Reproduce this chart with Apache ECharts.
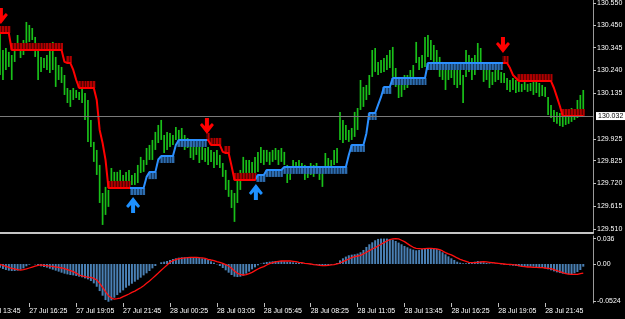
<!DOCTYPE html>
<html><head><meta charset="utf-8">
<script src="https://cdn.jsdelivr.net/npm/echarts@6/dist/echarts.min.js"></script>
<style>html,body{margin:0;padding:0;background:#000;}#c{width:625px;height:319px;}</style>
</head><body><div id="c"></div>
<script>
// ---------- data ----------
const timeLabels = ['27 Jul 13:45','27 Jul 16:25','27 Jul 19:05','27 Jul 21:45','28 Jul 00:25','28 Jul 03:05','28 Jul 05:45','28 Jul 08:25','28 Jul 11:05','28 Jul 13:45','28 Jul 16:25','28 Jul 19:05','28 Jul 21:45'];
const timeTickIdx = [-6,10,26,42,58,74,90,106,122,138,154,170,186];
const priceTicks = [129.510,129.615,129.720,129.825,129.925,130.135,130.240,130.345,130.450,130.550];
const priceTickLabels = ['129.510','129.615','129.720','129.825','129.925','130.135','130.240','130.345','130.450','130.550'];
const macdTicks = [0.036,0,-0.0524];
const macdTickLabels = ['0.036','0.00','-0.0524'];
const currentPrice = 130.032;

const high = [130.412,130.334,130.343,130.325,130.311,130.334,130.403,130.366,130.380,130.463,
130.449,130.435,130.394,130.334,130.302,130.297,130.311,130.357,130.371,130.302,
130.265,130.256,130.219,130.159,130.150,130.159,130.150,130.141,130.159,130.136,
130.104,130.012,129.911,129.874,129.805,129.676,129.704,129.690,129.791,129.773,
129.773,129.782,129.759,129.773,129.782,129.759,129.768,129.805,129.842,129.828,
129.883,129.897,129.920,129.957,129.989,130.012,129.943,129.957,129.952,129.943,
129.980,129.966,129.975,129.943,129.929,129.911,129.897,129.906,129.888,129.897,
129.883,129.888,129.874,129.865,129.874,129.851,129.814,129.782,129.736,129.690,
129.676,129.750,129.782,129.842,129.828,129.828,129.819,129.842,129.865,129.888,
129.874,129.874,129.865,129.874,129.883,129.874,129.883,129.865,129.805,129.791,
129.828,129.819,129.828,129.814,129.805,129.796,129.814,129.805,129.814,129.791,
129.782,129.860,129.837,129.828,129.874,129.883,130.049,130.012,129.989,129.966,
129.975,130.049,130.067,130.196,130.164,130.173,130.219,130.334,130.343,130.279,
130.288,130.297,130.311,130.334,130.348,130.251,130.210,130.182,130.219,130.219,
130.242,130.265,130.371,130.302,130.311,130.394,130.403,130.380,130.357,130.334,
130.302,130.279,130.256,130.274,130.265,130.256,130.242,130.279,130.219,130.334,
130.311,130.297,130.311,130.366,130.343,130.265,130.251,130.242,130.233,130.256,
130.251,130.233,130.228,130.205,130.196,130.205,130.196,130.187,130.178,130.187,
130.178,130.182,130.196,130.187,130.182,130.173,130.164,130.118,130.081,130.058,
130.049,130.044,130.040,130.049,130.058,130.067,130.058,130.104,130.127,130.150];

const low = [130.219,130.196,130.242,130.256,130.196,130.279,130.334,130.297,130.311,130.357,
130.371,130.380,130.302,130.196,130.233,130.251,130.242,130.228,130.242,130.164,
130.196,130.182,130.127,130.090,130.072,130.104,130.113,130.104,130.090,130.012,
129.911,129.888,129.819,129.759,129.630,129.529,129.575,129.612,129.704,129.704,
129.727,129.727,129.713,129.722,129.727,129.713,129.713,129.722,129.768,129.773,
129.805,129.828,129.828,129.874,129.906,129.920,129.860,129.874,129.888,129.897,
129.920,129.906,129.897,129.874,129.883,129.837,129.828,129.851,129.814,129.828,
129.819,129.805,129.819,129.791,129.805,129.791,129.750,129.690,129.658,129.607,
129.543,129.630,129.690,129.750,129.759,129.736,129.745,129.750,129.773,129.814,
129.805,129.819,129.805,129.819,129.828,129.805,129.819,129.805,129.722,129.736,
129.782,129.773,129.782,129.768,129.736,129.745,129.759,129.750,129.773,129.736,
129.704,129.791,129.782,129.768,129.805,129.814,129.920,129.906,129.920,129.911,
129.920,129.934,129.966,130.058,130.072,130.104,130.127,130.210,130.233,130.219,
130.228,130.233,130.242,130.251,130.210,130.164,130.113,130.118,130.150,130.159,
130.173,130.210,130.274,130.242,130.251,130.256,130.302,130.288,130.279,130.256,
130.210,130.196,130.150,130.196,130.205,130.173,130.159,130.173,130.090,130.210,
130.233,130.196,130.219,130.256,130.265,130.187,130.196,130.159,130.173,130.187,
130.196,130.182,130.182,130.150,130.141,130.150,130.136,130.141,130.141,130.150,
130.141,130.145,130.127,130.136,130.118,130.122,130.118,130.035,130.021,130.003,
129.994,129.984,129.980,129.989,129.994,130.003,130.012,130.021,130.026,130.049];

const stepLine = [130.412,130.412,130.412,130.412,130.334,130.334,130.334,130.334,130.334,130.334,
130.334,130.334,130.334,130.334,130.334,130.334,130.334,130.334,130.334,130.334,
130.334,130.334,130.279,130.274,130.274,130.242,130.196,130.159,130.159,130.159,
130.159,130.159,130.159,130.104,129.966,129.906,129.828,129.699,129.699,129.699,
129.699,129.699,129.699,129.699,129.699,129.699,129.699,129.699,129.699,129.699,
129.750,129.772,129.772,129.772,129.830,129.846,129.846,129.846,129.846,129.846,
129.897,129.920,129.920,129.920,129.920,129.920,129.920,129.920,129.920,129.920,
129.920,129.920,129.897,129.897,129.897,129.897,129.865,129.860,129.860,129.800,
129.736,129.736,129.736,129.736,129.736,129.736,129.736,129.736,129.759,129.759,
129.759,129.782,129.782,129.782,129.782,129.782,129.782,129.796,129.796,129.796,
129.796,129.796,129.796,129.796,129.796,129.796,129.796,129.796,129.796,129.796,
129.796,129.796,129.796,129.796,129.796,129.796,129.796,129.796,129.796,129.851,
129.897,129.897,129.897,129.897,129.897,129.950,130.044,130.044,130.044,130.081,
130.118,130.164,130.164,130.164,130.205,130.205,130.205,130.205,130.205,130.205,
130.205,130.205,130.205,130.205,130.205,130.205,130.274,130.274,130.274,130.274,
130.274,130.274,130.274,130.274,130.274,130.274,130.274,130.274,130.274,130.274,
130.274,130.274,130.274,130.274,130.274,130.274,130.274,130.274,130.274,130.274,
130.274,130.274,130.274,130.274,130.251,130.219,130.205,130.191,130.191,130.191,
130.191,130.191,130.191,130.191,130.191,130.191,130.191,130.191,130.191,130.159,
130.118,130.076,130.030,130.030,130.030,130.030,130.030,130.030,130.030,130.030];

const trendSegments = [
  {from:0, to:44, dir:'down'},
  {from:45, to:70, dir:'up'},
  {from:71, to:87, dir:'down'},
  {from:88, to:171, dir:'up'},
  {from:172, to:199, dir:'down'}
];
const arrowsDown = [[0.3,130.490],[70.6,129.984],[171.6,130.357]];
const arrowsUp = [[45.4,129.621],[87.3,129.681]];

const macdHist = [-0.0052,-0.0071,-0.0086,-0.0095,-0.0100,-0.0100,-0.0095,-0.0081,-0.0062,-0.0033,
-0.0010,0.0000,-0.0005,-0.0019,-0.0033,-0.0043,-0.0052,-0.0067,-0.0081,-0.0095,
-0.0109,-0.0124,-0.0138,-0.0148,-0.0157,-0.0162,-0.0171,-0.0181,-0.0190,-0.0205,
-0.0219,-0.0243,-0.0276,-0.0324,-0.0386,-0.0452,-0.0514,-0.0538,-0.0519,-0.0481,
-0.0443,-0.0409,-0.0376,-0.0338,-0.0309,-0.0281,-0.0252,-0.0224,-0.0195,-0.0162,
-0.0133,-0.0100,-0.0062,-0.0029,0.0000,0.0024,0.0033,0.0043,0.0057,0.0071,
0.0081,0.0090,0.0095,0.0095,0.0100,0.0100,0.0095,0.0095,0.0090,0.0081,
0.0071,0.0057,0.0038,0.0019,-0.0005,-0.0029,-0.0057,-0.0090,-0.0124,-0.0157,
-0.0181,-0.0186,-0.0181,-0.0167,-0.0138,-0.0109,-0.0076,-0.0048,-0.0019,0.0005,
0.0019,0.0029,0.0033,0.0038,0.0043,0.0043,0.0043,0.0038,0.0033,0.0029,
0.0024,0.0019,0.0014,0.0010,0.0005,0.0000,-0.0005,-0.0010,-0.0014,-0.0014,
-0.0019,-0.0019,-0.0014,-0.0010,-0.0005,0.0014,0.0052,0.0081,0.0105,0.0124,
0.0133,0.0138,0.0148,0.0167,0.0200,0.0243,0.0281,0.0309,0.0338,0.0357,
0.0362,0.0362,0.0362,0.0357,0.0347,0.0328,0.0305,0.0281,0.0257,0.0238,
0.0219,0.0205,0.0195,0.0200,0.0214,0.0224,0.0228,0.0228,0.0224,0.0214,
0.0195,0.0167,0.0138,0.0109,0.0081,0.0057,0.0033,0.0019,0.0010,0.0010,
0.0014,0.0024,0.0033,0.0043,0.0033,0.0024,0.0014,0.0010,0.0005,0.0005,
0.0000,-0.0005,-0.0010,-0.0014,-0.0019,-0.0024,-0.0029,-0.0033,-0.0038,-0.0038,
-0.0038,-0.0038,-0.0038,-0.0043,-0.0048,-0.0052,-0.0062,-0.0076,-0.0090,-0.0105,
-0.0119,-0.0129,-0.0138,-0.0143,-0.0148,-0.0143,-0.0133,-0.0114,-0.0086,-0.0038];

const macdSignal = [-0.0005,-0.0019,-0.0033,-0.0048,-0.0062,-0.0071,-0.0081,-0.0086,-0.0081,-0.0071,
-0.0057,-0.0043,-0.0029,-0.0019,-0.0014,-0.0019,-0.0024,-0.0029,-0.0033,-0.0043,
-0.0048,-0.0057,-0.0067,-0.0081,-0.0095,-0.0109,-0.0129,-0.0157,-0.0171,-0.0181,
-0.0186,-0.0190,-0.0205,-0.0228,-0.0276,-0.0333,-0.0395,-0.0452,-0.0486,-0.0500,
-0.0495,-0.0486,-0.0466,-0.0447,-0.0428,-0.0405,-0.0386,-0.0362,-0.0338,-0.0309,
-0.0276,-0.0243,-0.0205,-0.0167,-0.0129,-0.0090,-0.0052,-0.0014,0.0024,0.0048,
0.0062,0.0076,0.0081,0.0086,0.0090,0.0095,0.0095,0.0095,0.0090,0.0086,
0.0081,0.0067,0.0057,0.0048,0.0033,0.0024,0.0010,-0.0010,-0.0029,-0.0062,
-0.0100,-0.0133,-0.0148,-0.0157,-0.0152,-0.0138,-0.0119,-0.0095,-0.0071,-0.0052,
-0.0038,-0.0014,0.0005,0.0019,0.0029,0.0038,0.0043,0.0043,0.0043,0.0043,
0.0038,0.0033,0.0024,0.0019,0.0010,0.0005,0.0000,-0.0010,-0.0014,-0.0019,
-0.0024,-0.0024,-0.0019,-0.0014,-0.0010,0.0000,0.0014,0.0033,0.0052,0.0071,
0.0090,0.0105,0.0114,0.0124,0.0143,0.0167,0.0190,0.0214,0.0233,0.0257,
0.0281,0.0305,0.0328,0.0347,0.0357,0.0362,0.0357,0.0338,0.0319,0.0290,
0.0262,0.0238,0.0224,0.0219,0.0214,0.0219,0.0224,0.0224,0.0219,0.0214,
0.0205,0.0186,0.0162,0.0143,0.0129,0.0109,0.0086,0.0067,0.0052,0.0038,
0.0024,0.0019,0.0019,0.0024,0.0029,0.0033,0.0029,0.0024,0.0019,0.0014,
0.0010,0.0005,0.0000,-0.0005,-0.0005,-0.0010,-0.0014,-0.0024,-0.0033,-0.0038,
-0.0043,-0.0043,-0.0048,-0.0048,-0.0052,-0.0052,-0.0057,-0.0062,-0.0067,-0.0081,
-0.0095,-0.0109,-0.0124,-0.0138,-0.0143,-0.0148,-0.0148,-0.0148,-0.0138,-0.0129];

// ---------- chart ----------
const RED = '#ff0000', BLUE = '#2b8fff', GREEN = '#19c019';
const FONT = '"Liberation Sans", Arial, sans-serif';
const XMIN = -16.04, XMAX = 202.32;
function trendAt(i){ for (const s of trendSegments) if (i >= s.from && i <= s.to) return s.dir; return 'down'; }
function nearestLabel(v, ticks, labels){ let k=0, d=Infinity; ticks.forEach((t,j)=>{ if(Math.abs(t-v)<d){d=Math.abs(t-v);k=j;} }); return labels[k]; }

const chart = echarts.init(document.getElementById('c'));
const axisText = {color:'#ffffff', fontSize:7, fontFamily:FONT};

chart.setOption({
  backgroundColor:'#000000',
  animation:false,
  grid:[
    {left:-47, right:32, top:0, height:233, outerBoundsMode:'none', containLabel:false},
    {left:-47, right:32, top:236, height:67, outerBoundsMode:'none', containLabel:false}
  ],
  visualMap:[{
    type:'piecewise', show:false, dimension:0, seriesIndex:2,
    pieces: trendSegments.map(s => ({gte:s.from-0.5, lt:s.to+0.5, color: s.dir==='down'?RED:BLUE}))
  }],
  xAxis:[
    {gridIndex:0, type:'value', min:XMIN, max:XMAX,
     axisLine:{show:true, onZero:false, lineStyle:{color:'#c4c4c4', width:2}},
     axisTick:{show:false}, axisLabel:{show:false}, splitLine:{show:false}},
    {gridIndex:1, type:'value', min:XMIN, max:XMAX,
     axisLine:{show:false, onZero:false},
     axisTick:{show:true, customValues:timeTickIdx, length:4, lineStyle:{color:'#c0c0c0'}},
     axisLabel:Object.assign({customValues:timeTickIdx, align:'left', margin:5,
       formatter:(v)=>{const k=timeTickIdx.indexOf(Math.round(v)); return k>=0?timeLabels[k]:'';}}, axisText),
     splitLine:{show:false}}
  ],
  yAxis:[
    {gridIndex:0, type:'value', position:'right', min:129.4918, max:130.564,
     axisLine:{show:true, onZero:false, lineStyle:{color:'#9a9a9a'}},
     axisTick:{show:true, customValues:priceTicks, length:3, lineStyle:{color:'#c0c0c0'}},
     axisLabel:Object.assign({customValues:priceTicks, margin:4,
       formatter:(v)=>nearestLabel(v, priceTicks, priceTickLabels)}, axisText),
     splitLine:{show:false}},
    {gridIndex:1, type:'value', position:'right', min:-0.0556, max:0.0399,
     axisLine:{show:true, onZero:false, lineStyle:{color:'#9a9a9a'}},
     axisTick:{show:true, customValues:macdTicks, length:3, lineStyle:{color:'#c0c0c0'}},
     axisLabel:Object.assign({customValues:macdTicks, margin:4,
       formatter:(v)=>nearestLabel(v, macdTicks, macdTickLabels)}, axisText),
     splitLine:{show:false}}
  ],
  series:[
    { // price bars (high-low)
      type:'custom', xAxisIndex:0, yAxisIndex:0, z:1,
      data: high.map((h,i)=>[i, low[i], h]),
      encode:{x:0, y:[1,2]},
      renderItem:(params, api)=>{
        const i = api.value(0);
        const a = api.coord([i, api.value(1)]);
        const b = api.coord([i, api.value(2)]);
        return {type:'line', shape:{x1:a[0], y1:a[1], x2:b[0], y2:b[1]}, style:{stroke:GREEN, lineWidth:1.7}};
      },
      markLine:{
        silent:true, symbol:'none', animation:false,
        lineStyle:{color:'#7a7a7a', type:'solid', width:1},
        label:{show:true, position:'end', distance:3, formatter: currentPrice.toFixed(3),
               backgroundColor:'#ffffff', color:'#000000', fontSize:7, fontFamily:FONT, padding:[1,2,0,2]},
        data:[{yAxis:currentPrice}]
      }
    },
    { // hatched boxes along the step line
      type:'custom', xAxisIndex:0, yAxisIndex:0, z:2,
      data: stepLine.map((v,i)=>[i,v]),
      encode:{x:0, y:1},
      renderItem:(params, api)=>{
        const i = api.value(0), v = api.value(1);
        const flat = stepLine[i-1]===v || stepLine[i+1]===v;
        if (!flat) return null;
        const dir = trendAt(i);
        const l = api.coord([i-0.5, v]), r = api.coord([i+0.5, v]);
        const h = 7;
        const y = dir==='down' ? l[1]-h : l[1];
        return {type:'group', children:[
          {type:'rect', shape:{x:l[0], y:y, width:r[0]-l[0], height:h}, style:{fill: dir==='down'?'#b00000':'#2d6cae'}},
          {type:'rect', shape:{x:Math.round(l[0]), y:y, width:1, height:h}, style:{fill: dir==='down'?'#5c0000':'#173a63'}}
        ]};
      }
    },
    { // step line
      type:'line', xAxisIndex:0, yAxisIndex:0, z:4,
      data: stepLine.map((v,i)=>[i,v]),
      showSymbol:false, symbol:'none',
      lineStyle:{width:2}
    },
    {
      type:'scatter', xAxisIndex:0, yAxisIndex:0, z:6,
      data: arrowsDown,
      symbol:'path://M5,0L9,0L9,8L12,5L14,7L7,16L0,7L2,5L5,8Z', symbolSize:[14,16],
      itemStyle:{color:RED, opacity:1}
    },
    {
      type:'scatter', xAxisIndex:0, yAxisIndex:0, z:6,
      data: arrowsUp,
      symbol:'path://M5,16L9,16L9,8L12,11L14,9L7,0L0,9L2,11L5,8Z', symbolSize:[14,16],
      itemStyle:{color:'#1e90ff', opacity:1}
    },
    {
      type:'bar', xAxisIndex:1, yAxisIndex:1, z:1,
      data: macdHist.map((v,i)=>[i,v]),
      barWidth:2, itemStyle:{color:'#4a80b4'}
    },
    {
      type:'line', xAxisIndex:1, yAxisIndex:1, z:3,
      data: macdSignal.map((v,i)=>[i,v]),
      showSymbol:false, symbol:'none',
      lineStyle:{color:'#ff1010', width:1.3}
    }
  ]
});
</script>
</body></html>
